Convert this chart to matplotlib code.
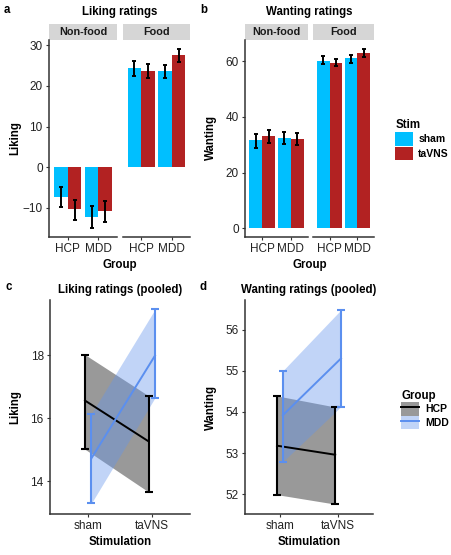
import matplotlib
matplotlib.use('Agg')
import matplotlib.pyplot as plt
from matplotlib.patches import Patch, Rectangle
from matplotlib.lines import Line2D
import numpy as np

plt.rcParams['font.family'] = ['Liberation Sans', 'DejaVu Sans']

# ---- data ----
facets = ['Non-food', 'Food']
groups = ['HCP', 'MDD']
stims = ['sham', 'taVNS']

# order inside each list: Non-food HCP, Non-food MDD, Food HCP, Food MDD
liking_sham = [-7.3, -12.2, 24.3, 23.7]
liking_sham_lo = [-9.8, -15.0, 22.5, 22.0]
liking_sham_hi = [-4.9, -9.6, 26.1, 25.1]
liking_tavns = [-10.3, -10.8, 23.7, 27.6]
liking_tavns_lo = [-13.1, -13.5, 21.9, 26.0]
liking_tavns_hi = [-8.0, -8.4, 25.5, 29.1]

wanting_sham = [31.6, 32.6, 60.3, 61.1]
wanting_sham_lo = [29.0, 30.2, 58.9, 59.5]
wanting_sham_hi = [34.0, 34.7, 61.8, 62.4]
wanting_tavns = [33.1, 32.2, 59.5, 63.1]
wanting_tavns_lo = [30.7, 30.0, 58.2, 61.6]
wanting_tavns_hi = [35.2, 34.4, 61.0, 64.5]

# pooled: values per stimulation (sham, taVNS)
pool_like_hcp = [16.56, 15.26]
pool_like_hcp_lo = [15.01, 13.65]
pool_like_hcp_hi = [18.02, 16.71]
pool_like_mdd = [14.72, 17.99]
pool_like_mdd_lo = [13.29, 16.65]
pool_like_mdd_hi = [16.14, 19.46]

pool_want_hcp = [53.18, 52.96]
pool_want_hcp_lo = [51.99, 51.76]
pool_want_hcp_hi = [54.39, 54.12]
pool_want_mdd = [53.92, 55.30]
pool_want_mdd_lo = [52.79, 54.13]
pool_want_mdd_hi = [55.00, 56.48]

# ---- style ----
c_sham = '#00BFFF'
c_tavns = '#B22222'
c_hcp = 'black'
c_mdd = '#5B8FEF'
axcol = '#333333'
tick_fs = 8.5
lab_fs = 8.3
leg_fs = 7.5
W, H = 451, 555

fig = plt.figure(figsize=(W / 100, H / 100), dpi=100)


def ax_px(x0, y0, x1, y1):
    return fig.add_axes([x0 / W, 1 - y1 / H, (x1 - x0) / W, (y1 - y0) / H])


def style(ax, left=True):
    for s in ['top', 'right']:
        ax.spines[s].set_visible(False)
    ax.spines['bottom'].set_color(axcol)
    ax.spines['bottom'].set_linewidth(1.1)
    if left:
        ax.spines['left'].set_color(axcol)
        ax.spines['left'].set_linewidth(1.1)
    else:
        ax.spines['left'].set_visible(False)
        ax.tick_params(axis='y', left=False, labelleft=False)
    ax.tick_params(labelsize=tick_fs, colors=axcol, labelcolor='#222222',
                   length=2.5, width=0.8, pad=2)


def strip(ax, text):
    r = Rectangle((0, 1.0), 1, 16 / 197 * 1.0, transform=ax.transAxes,
                  facecolor='#D6D6D6', edgecolor='none', clip_on=False)
    ax.add_patch(r)
    ax.text(0.5, 1.0 + 8 / 197, text, transform=ax.transAxes, ha='center',
            va='center', fontsize=7.8, fontweight='bold', color='#1a1a1a')


def bar_panel(xs, sham, sham_lo, sham_hi, tav, tav_lo, tav_hi, ylim, yticks, ylabel, title, letter, lx):
    axes = []
    for i, f in enumerate(facets):
        ax = ax_px(xs[i][0], 40, xs[i][1], 237)
        idx = [2 * i, 2 * i + 1]
        x = np.arange(1, len(groups) + 1)
        m_s = np.array([sham[j] for j in idx])
        m_t = np.array([tav[j] for j in idx])
        ax.bar(x - 0.225, m_s, width=0.45, color=c_sham, zorder=2)
        ax.bar(x + 0.225, m_t, width=0.45, color=c_tavns, zorder=2)
        lo_s = np.array([sham_lo[j] for j in idx]); hi_s = np.array([sham_hi[j] for j in idx])
        lo_t = np.array([tav_lo[j] for j in idx]); hi_t = np.array([tav_hi[j] for j in idx])
        ax.errorbar(x - 0.225, m_s, yerr=[m_s - lo_s, hi_s - m_s], fmt='none',
                    ecolor='black', elinewidth=1.4, capsize=1.6, capthick=1.4, zorder=3)
        ax.errorbar(x + 0.225, m_t, yerr=[m_t - lo_t, hi_t - m_t], fmt='none',
                    ecolor='black', elinewidth=1.4, capsize=1.6, capthick=1.4, zorder=3)
        ax.set_xlim(0.4, 2.6)
        ax.set_ylim(*ylim)
        ax.set_xticks(x)
        ax.set_xticklabels(groups)
        ax.set_yticks(yticks)
        style(ax, left=(i == 0))
        strip(ax, f)
        axes.append(ax)
    cx = (xs[0][0] + xs[1][1]) / 2
    fig.text(cx / W, 1 - 265 / H, 'Group', ha='center', va='center',
             fontsize=lab_fs, fontweight='bold')
    fig.text(cx / W, 1 - 12 / H, title, ha='center', va='center',
             fontsize=lab_fs, fontweight='bold')
    fig.text(lx / W, 1 - 138 / H, ylabel, ha='center', va='center', rotation=90,
             fontsize=lab_fs, fontweight='bold')
    fig.text((xs[0][0] - 45) / W, 1 - 10 / H, letter, ha='left', va='center',
             fontsize=lab_fs, fontweight='bold')
    return axes


bar_panel([(49, 117), (123, 190)], liking_sham, liking_sham_lo, liking_sham_hi,
          liking_tavns, liking_tavns_lo, liking_tavns_hi,
          (-17.2, 31.3), [-10, 0, 10, 20, 30], 'Liking', 'Liking ratings', 'a', 15)
axb = bar_panel([(245, 308), (313, 374)], wanting_sham, wanting_sham_lo, wanting_sham_hi,
                wanting_tavns, wanting_tavns_lo, wanting_tavns_hi,
                (-3.2, 67.7), [0, 20, 40, 60], 'Wanting', 'Wanting ratings', 'b', 211)

leg1 = fig.legend(handles=[Patch(facecolor=c_sham), Patch(facecolor=c_tavns)],
                  labels=stims, title='Stim', loc='upper left',
                  bbox_to_anchor=(390 / W, 1 - 114 / H), frameon=False,
                  prop={'size': leg_fs, 'weight': 'bold'}, handlelength=1.7,
                  handleheight=1.6, handletextpad=0.5, labelspacing=0.1, borderpad=0)
leg1.get_title().set_fontweight('bold')
leg1.get_title().set_fontsize(lab_fs)
leg1._legend_box.align = 'left'


def pooled_panel(x0, x1, hcp, hcp_lo, hcp_hi, mdd, mdd_lo, mdd_hi, ylim, yticks, ylabel, title, letter, lx):
    ax = ax_px(x0, 300, x1, 514)
    x = np.arange(1, len(stims) + 1)
    for m, lo, hi, col, fill, off, a in [(hcp, hcp_lo, hcp_hi, c_hcp, 'black', -0.05, 0.4),
                                         (mdd, mdd_lo, mdd_hi, c_mdd, '#6495ED', 0.05, 0.4)]:
        m = np.array(m); lo = np.array(lo); hi = np.array(hi)
        xx = x + off
        ax.fill_between(xx, lo, hi, color=fill, alpha=a, linewidth=0, zorder=1)
        ax.plot(xx, m, color=col, lw=1.4, zorder=3)
        ax.errorbar(xx, m, yerr=[m - lo, hi - m], fmt='none', ecolor=col,
                    elinewidth=1.5, capsize=3.2, capthick=1.5, zorder=3)
    ax.set_xlim(0.4, 2.6)
    ax.set_ylim(*ylim)
    ax.set_xticks(x)
    ax.set_xticklabels(stims)
    ax.set_yticks(yticks)
    style(ax)
    cx = (x0 + x1) / 2
    fig.text(cx / W, 1 - 542 / H, 'Stimulation', ha='center', va='center',
             fontsize=lab_fs, fontweight='bold')
    fig.text(cx / W, 1 - 290 / H, title, ha='center', va='center',
             fontsize=lab_fs, fontweight='bold')
    fig.text(lx / W, 1 - 407 / H, ylabel, ha='center', va='center', rotation=90,
             fontsize=lab_fs, fontweight='bold')
    fig.text((x0 - 45) / W, 1 - 287 / H, letter, ha='left', va='center',
             fontsize=lab_fs, fontweight='bold')
    return ax


pooled_panel(50, 190, pool_like_hcp, pool_like_hcp_lo, pool_like_hcp_hi,
             pool_like_mdd, pool_like_mdd_lo, pool_like_mdd_hi,
             (12.95, 19.76), [14, 16, 18], 'Liking', 'Liking ratings (pooled)', 'c', 15)
pooled_panel(245, 373, pool_want_hcp, pool_want_hcp_lo, pool_want_hcp_hi,
             pool_want_mdd, pool_want_mdd_lo, pool_want_mdd_hi,
             (51.52, 56.72), [52, 53, 54, 55, 56], 'Wanting', 'Wanting ratings (pooled)', 'd', 211)

h_hcp = (Patch(facecolor='black', alpha=0.4, linewidth=0), Line2D([], [], color=c_hcp, lw=1.4))
h_mdd = (Patch(facecolor='#6495ED', alpha=0.4, linewidth=0), Line2D([], [], color=c_mdd, lw=1.4))
leg2 = fig.legend(handles=[h_hcp, h_mdd], labels=groups, title='Group', loc='upper left',
                  bbox_to_anchor=(396 / W, 1 - 385 / H), frameon=False,
                  prop={'size': leg_fs, 'weight': 'bold'}, handlelength=1.7,
                  handleheight=1.6, handletextpad=0.6, labelspacing=0.0, borderpad=0)
leg2.get_title().set_fontweight('bold')
leg2.get_title().set_fontsize(lab_fs)
leg2._legend_box.align = 'left'

fig.savefig('out.png', dpi=100)
